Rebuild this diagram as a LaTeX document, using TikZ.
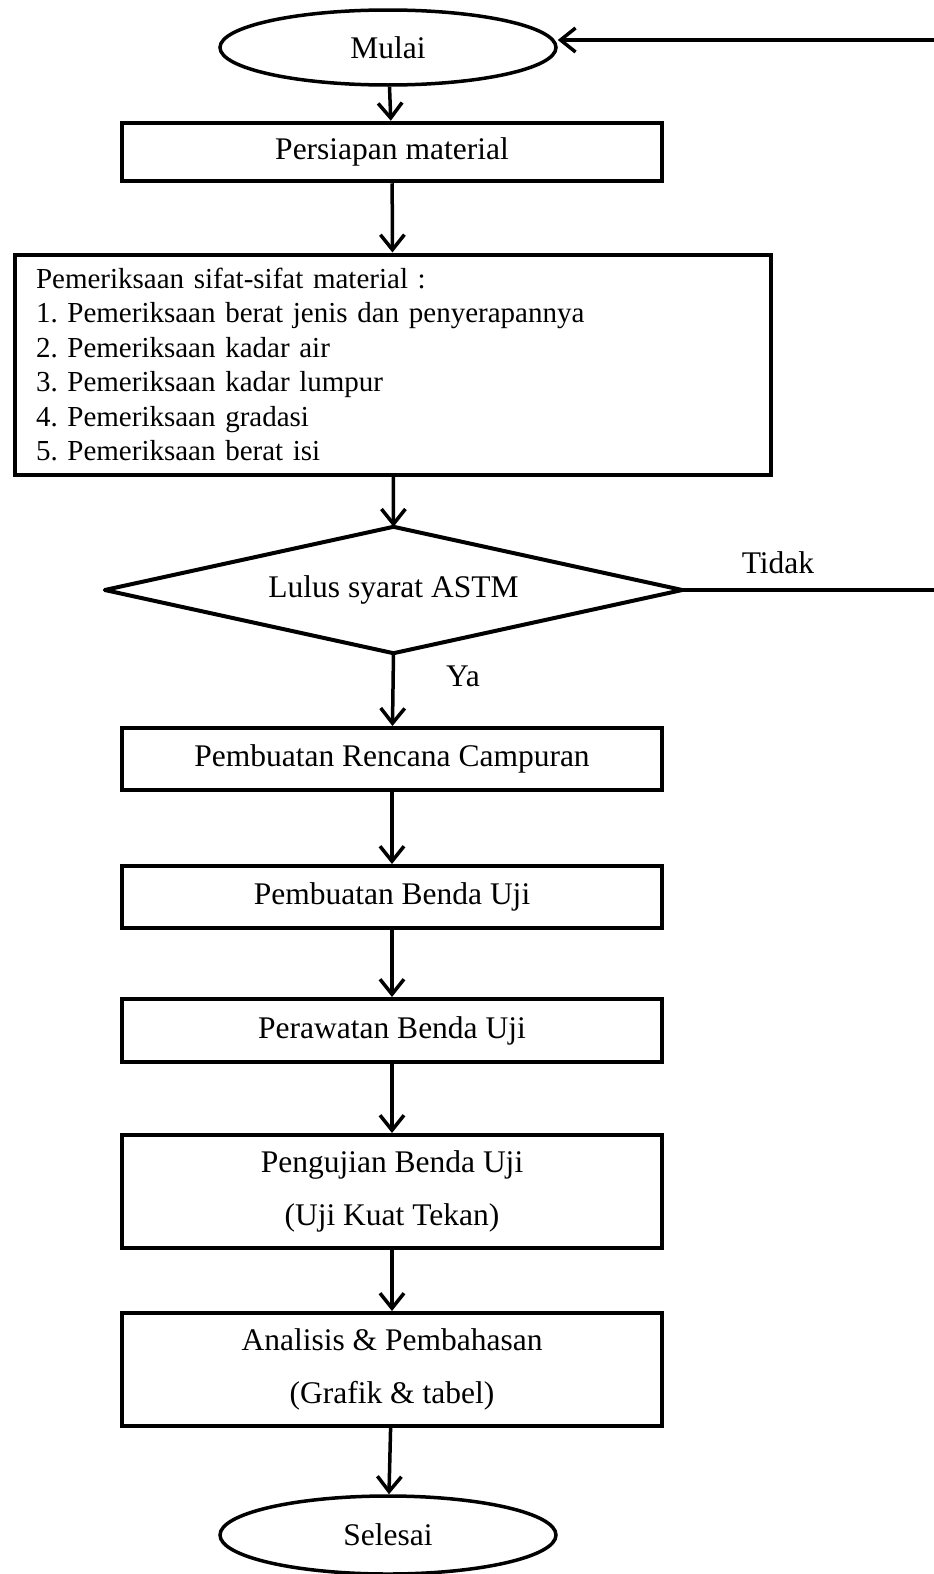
\documentclass[tikz,border=0pt]{standalone}
\usepackage{fontspec}
\setmainfont{Liberation Serif}
\usetikzlibrary{shapes.geometric,arrows.meta}
\frenchspacing
\tikzset{
  every node/.style={inner sep=0pt},
  main/.style={font=\fontsize{31.5}{53}\selectfont},
  procbox/.style={draw, line width=4pt, rectangle, minimum width=540pt, main, align=center},
  termbox/.style={draw, line width=3.5pt, ellipse, minimum width=336pt, minimum height=75pt, main},
  decarea/.style={rectangle, minimum width=577pt, minimum height=126pt, main},
  decline/.style={line width=4pt, line join=round},
  flow/.style={line width=3.5pt, -{Straight Barb[length=15pt,width=24pt,line width=3.5pt]}},
  plain/.style={line width=3.5pt},
  lbl/.style={main, anchor=base}
}
\begin{document}
\begin{tikzpicture}[x=1pt,y=-1pt]
\useasboundingbox (0,0) rectangle (934,1574);
\node[termbox] (mulai) at (388,47.5) {Mulai};
\node[procbox, minimum height=58.5pt] (persiapan) at (392,152) {Persiapan material};
\node[draw, line width=4pt, rectangle, minimum width=756pt, minimum height=220pt,
      text width=714pt, align=left, font=\fontsize{29}{34.5}\selectfont] (periksa) at (393,364.5)
  {Pemeriksaan sifat-sifat material :\\
   1. Pemeriksaan berat jenis dan penyerapannya\\
   2. Pemeriksaan kadar air\\
   3. Pemeriksaan kadar lumpur\\
   4. Pemeriksaan gradasi\\
   5. Pemeriksaan berat isi};
\node[decarea] (lulus) at (393.5,590) {Lulus syarat ASTM};
\draw[decline] (lulus.north) -- (lulus.east) -- (lulus.south) -- (lulus.west) -- cycle;
\node[procbox, minimum height=62pt] (rencana) at (392,759) {Pembuatan Rencana Campuran};
\node[procbox, minimum height=62pt] (benda) at (392,897) {Pembuatan Benda Uji};
\node[procbox, minimum height=63pt] (rawat) at (392,1030.5) {Perawatan Benda Uji};
\node[procbox, minimum height=113pt] (uji) at (392,1191.5) {Pengujian Benda Uji\\(Uji Kuat Tekan)};
\node[procbox, minimum height=113pt] (analisis) at (392,1369.5) {Analisis \& Pembahasan\\(Grafik \& tabel)};
\node[termbox, minimum height=78pt] (selesai) at (388,1535) {Selesai};
\node[lbl] (tidak) at (778,573) {Tidak};
\node[lbl] (ya) at (463,686) {Ya};
\coordinate (r1) at (938,590);
\coordinate (r2) at (938,40);
\draw[flow] (mulai) -- (persiapan);
\draw[flow] (persiapan) -- (periksa);
\draw[flow] (periksa) -- (lulus.north);
\draw[flow] (lulus.south) -- (rencana);
\draw[flow] (rencana) -- (benda);
\draw[flow] (benda) -- (rawat);
\draw[flow] (rawat) -- (uji);
\draw[flow] (uji) -- (analisis);
\draw[flow] (analisis) -- (selesai);
\draw[plain] (lulus.east) -- (r1) -- (r2);
\draw[flow] (r2) -- (r2 -| mulai.east);
\end{tikzpicture}
\end{document}
